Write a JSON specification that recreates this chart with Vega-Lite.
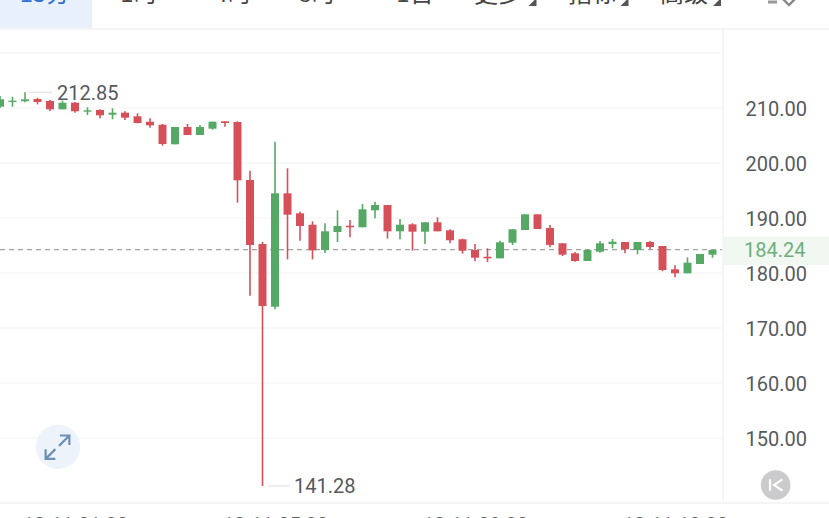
{
"$schema":"https://vega.github.io/schema/vega-lite/v6.json",
"width":829,"height":518,"padding":0,"autosize":{"type":"none"},"background":"#ffffff",
"config":{"view":{"stroke":null},"font":"Roboto"},
"datasets":{
"candles":[
{"t":"2025-10-11T00:00:00","o":210.24,"h":212.18,"l":210.0,"c":211.58,"dir":"up"},
{"t":"2025-10-11T00:15:00","o":211.09,"h":212.05,"l":210.24,"c":211.33,"dir":"up"},
{"t":"2025-10-11T00:30:00","o":211.22,"h":212.85,"l":211.04,"c":211.58,"dir":"up"},
{"t":"2025-10-11T00:45:00","o":211.64,"h":211.87,"l":210.67,"c":211.09,"dir":"down"},
{"t":"2025-10-11T01:00:00","o":211.27,"h":211.45,"l":209.45,"c":209.76,"dir":"down"},
{"t":"2025-10-11T01:15:00","o":209.76,"h":211.33,"l":209.76,"c":210.96,"dir":"up"},
{"t":"2025-10-11T01:30:00","o":210.96,"h":211.09,"l":209.15,"c":209.4,"dir":"down"},
{"t":"2025-10-11T01:45:00","o":209.33,"h":210.13,"l":208.73,"c":209.58,"dir":"up"},
{"t":"2025-10-11T02:00:00","o":209.64,"h":209.76,"l":208.13,"c":208.67,"dir":"down"},
{"t":"2025-10-11T02:15:00","o":208.78,"h":209.95,"l":207.95,"c":209.15,"dir":"up"},
{"t":"2025-10-11T02:30:00","o":209.15,"h":209.4,"l":207.82,"c":208.24,"dir":"down"},
{"t":"2025-10-11T02:45:00","o":208.49,"h":209.04,"l":207.22,"c":207.27,"dir":"down"},
{"t":"2025-10-11T03:00:00","o":207.51,"h":208.13,"l":206.42,"c":206.85,"dir":"down"},
{"t":"2025-10-11T03:15:00","o":206.96,"h":207.09,"l":203.15,"c":203.45,"dir":"down"},
{"t":"2025-10-11T03:30:00","o":203.4,"h":206.55,"l":203.4,"c":206.55,"dir":"up"},
{"t":"2025-10-11T03:45:00","o":206.55,"h":207.09,"l":205.09,"c":205.09,"dir":"down"},
{"t":"2025-10-11T04:00:00","o":205.09,"h":206.91,"l":205.09,"c":206.55,"dir":"up"},
{"t":"2025-10-11T04:15:00","o":206.24,"h":207.51,"l":206.05,"c":207.51,"dir":"up"},
{"t":"2025-10-11T04:30:00","o":207.58,"h":207.58,"l":206.6,"c":207.27,"dir":"down"},
{"t":"2025-10-11T04:45:00","o":207.45,"h":207.58,"l":192.78,"c":196.85,"dir":"down"},
{"t":"2025-10-11T05:00:00","o":196.91,"h":198.6,"l":175.87,"c":185.09,"dir":"down"},
{"t":"2025-10-11T05:15:00","o":185.27,"h":185.64,"l":141.28,"c":174.0,"dir":"down"},
{"t":"2025-10-11T05:30:00","o":173.87,"h":203.87,"l":173.4,"c":194.49,"dir":"up"},
{"t":"2025-10-11T05:45:00","o":194.49,"h":199.04,"l":182.49,"c":190.6,"dir":"down"},
{"t":"2025-10-11T06:00:00","o":190.85,"h":191.15,"l":185.87,"c":188.55,"dir":"down"},
{"t":"2025-10-11T06:15:00","o":188.78,"h":189.4,"l":182.49,"c":184.13,"dir":"down"},
{"t":"2025-10-11T06:30:00","o":184.18,"h":189.04,"l":183.64,"c":187.58,"dir":"up"},
{"t":"2025-10-11T06:45:00","o":187.45,"h":191.4,"l":185.64,"c":188.55,"dir":"up"},
{"t":"2025-10-11T07:00:00","o":188.6,"h":189.64,"l":186.49,"c":188.31,"dir":"down"},
{"t":"2025-10-11T07:15:00","o":188.31,"h":192.55,"l":188.31,"c":191.58,"dir":"up"},
{"t":"2025-10-11T07:30:00","o":191.4,"h":192.96,"l":189.95,"c":192.36,"dir":"up"},
{"t":"2025-10-11T07:45:00","o":192.36,"h":192.36,"l":186.24,"c":187.58,"dir":"down"},
{"t":"2025-10-11T08:00:00","o":187.58,"h":189.82,"l":186.13,"c":188.78,"dir":"up"},
{"t":"2025-10-11T08:15:00","o":188.85,"h":189.04,"l":184.05,"c":187.51,"dir":"down"},
{"t":"2025-10-11T08:30:00","o":187.51,"h":189.22,"l":185.27,"c":189.22,"dir":"up"},
{"t":"2025-10-11T08:45:00","o":189.22,"h":190.13,"l":187.58,"c":187.58,"dir":"down"},
{"t":"2025-10-11T09:00:00","o":187.76,"h":187.95,"l":185.4,"c":185.95,"dir":"down"},
{"t":"2025-10-11T09:15:00","o":186.13,"h":186.24,"l":183.51,"c":184.05,"dir":"down"},
{"t":"2025-10-11T09:30:00","o":184.18,"h":185.27,"l":182.13,"c":182.78,"dir":"down"},
{"t":"2025-10-11T09:45:00","o":182.96,"h":184.49,"l":182.0,"c":182.67,"dir":"down"},
{"t":"2025-10-11T10:00:00","o":182.67,"h":185.87,"l":182.67,"c":185.58,"dir":"up"},
{"t":"2025-10-11T10:15:00","o":185.51,"h":187.95,"l":185.09,"c":187.95,"dir":"up"},
{"t":"2025-10-11T10:30:00","o":187.82,"h":190.67,"l":187.82,"c":190.67,"dir":"up"},
{"t":"2025-10-11T10:45:00","o":190.67,"h":190.67,"l":188.0,"c":188.0,"dir":"down"},
{"t":"2025-10-11T11:00:00","o":188.18,"h":188.73,"l":184.67,"c":185.09,"dir":"down"},
{"t":"2025-10-11T11:15:00","o":185.4,"h":185.4,"l":183.09,"c":183.33,"dir":"down"},
{"t":"2025-10-11T11:30:00","o":183.58,"h":183.82,"l":182.05,"c":182.18,"dir":"down"},
{"t":"2025-10-11T11:45:00","o":182.18,"h":184.31,"l":182.18,"c":184.18,"dir":"up"},
{"t":"2025-10-11T12:00:00","o":183.87,"h":185.82,"l":183.69,"c":185.4,"dir":"up"},
{"t":"2025-10-11T12:15:00","o":185.27,"h":186.18,"l":184.49,"c":185.69,"dir":"up"},
{"t":"2025-10-11T12:30:00","o":185.64,"h":185.64,"l":183.58,"c":184.31,"dir":"down"},
{"t":"2025-10-11T12:45:00","o":184.18,"h":185.64,"l":183.4,"c":185.64,"dir":"up"},
{"t":"2025-10-11T13:00:00","o":185.64,"h":185.82,"l":184.36,"c":184.73,"dir":"down"},
{"t":"2025-10-11T13:15:00","o":184.91,"h":184.91,"l":180.31,"c":180.55,"dir":"down"},
{"t":"2025-10-11T13:30:00","o":180.67,"h":181.4,"l":179.22,"c":179.95,"dir":"down"},
{"t":"2025-10-11T13:45:00","o":179.95,"h":182.85,"l":179.95,"c":181.87,"dir":"up"},
{"t":"2025-10-11T14:00:00","o":181.64,"h":183.45,"l":181.64,"c":183.45,"dir":"up"},
{"t":"2025-10-11T14:15:00","o":183.33,"h":184.18,"l":182.78,"c":184.18,"dir":"up"}
],
"grid":[{"v":150},{"v":160},{"v":170},{"v":180},{"v":190},{"v":200},{"v":210},{"v":220}],
"frameH":[{"v":224.36},{"v":138.18}],
"tabs":[
{"t":"2025-10-11T02:46:48","label":"1时"},
{"t":"2025-10-11T04:39:36","label":"4时"},
{"t":"2025-10-11T06:20:24","label":"8时"},
{"t":"2025-10-11T08:18:00","label":"1日"},
{"t":"2025-10-11T09:57:36","label":"更多"},
{"t":"2025-10-11T11:50:24","label":"指标"},
{"t":"2025-10-11T13:40:48","label":"高级"}
],
"menuArrows":[{"t":"2025-10-11T10:39:00"},{"t":"2025-10-11T12:29:24"},{"t":"2025-10-11T14:20:24"}],
"extremes":[
{"t":"2025-10-11T01:08:24","t0":"2025-10-11T00:34:00","t1":"2025-10-11T01:02:24","v":212.85,"label":"212.85"},
{"t":"2025-10-11T05:52:48","t0":"2025-10-11T05:21:36","t1":"2025-10-11T05:48:00","v":141.28,"label":"141.28"}
]
},
"layer":[
{"data":{"values":[{"t":"2025-10-11T00:00:00","t2":"2025-10-11T01:50:24","v":229.64,"v2":224.55}]},
 "mark":{"type":"rect","color":"#e8f0fb"},
 "encoding":{
  "x":{"field":"t","type":"temporal","title":null,
   "scale":{"domain":[{"year":2025,"month":10,"date":11,"hours":0,"minutes":0},{"year":2025,"month":10,"date":11,"hours":16,"minutes":34,"seconds":48}],"nice":false,"padding":0},
   "axis":{"values":[{"year":2025,"month":10,"date":11,"hours":1,"minutes":30},{"year":2025,"month":10,"date":11,"hours":5,"minutes":30},{"year":2025,"month":10,"date":11,"hours":9,"minutes":30},{"year":2025,"month":10,"date":11,"hours":13,"minutes":30}],
    "format":"%m-%d %H:%M","orient":"bottom","offset":-3,"domain":false,"ticks":false,"grid":false,"labelPadding":0,"labelBaseline":"top","labelFontSize":20,"labelColor":"#555a60","labelOverlap":false,"labelBound":false,"labelFlush":false,"labelAngle":0,"title":null}},
  "x2":{"field":"t2"},
  "y":{"field":"v","type":"quantitative","title":null,
   "scale":{"domain":[135.4545,229.6364],"nice":false,"zero":false,"padding":0},
   "axis":{"values":[150,160,170,180,190,200,210],"format":".2f","orient":"right","offset":-84,"domain":false,"ticks":false,"grid":false,"labelPadding":0,"labelAlign":"left","labelFontSize":20,"labelColor":"#555a60","labelOffset":1.5,"title":null}},
  "y2":{"field":"v2"}}},
{"data":{"name":"grid"},
 "mark":{"type":"rule","color":"#f7f7f7","strokeWidth":1.5},
 "encoding":{"x":{"datum":{"year":2025,"month":10,"date":11,"hours":0,"minutes":0},"type":"temporal"},"x2":{"datum":{"year":2025,"month":10,"date":11,"hours":14,"minutes":26,"seconds":24}},"y":{"field":"v","type":"quantitative"}}},
{"data":{"name":"frameH"},
 "mark":{"type":"rule","color":"#f2f2f3","strokeWidth":1.5},
 "encoding":{"x":{"datum":{"year":2025,"month":10,"date":11,"hours":0,"minutes":0},"type":"temporal"},"x2":{"datum":{"year":2025,"month":10,"date":11,"hours":16,"minutes":34,"seconds":48}},"y":{"field":"v","type":"quantitative"}}},
{"data":{"values":[{"t":"2025-10-11T14:27:36","v":224.36,"v2":138.18}]},
 "mark":{"type":"rule","color":"#f2f2f3","strokeWidth":1.5},
 "encoding":{"x":{"field":"t","type":"temporal"},"y":{"field":"v","type":"quantitative"},"y2":{"field":"v2"}}},
{"data":{"values":[{"t":"2025-10-11T14:27:36","t2":"2025-10-11T16:34:48","v":186.6,"v2":181.45}]},
 "mark":{"type":"rect","color":"#f0f8f1"},
 "encoding":{"x":{"field":"t","type":"temporal"},"x2":{"field":"t2"},"y":{"field":"v","type":"quantitative"},"y2":{"field":"v2"}}},
{"data":{"values":[{"t":"2025-10-11T00:00:00","t2":"2025-10-11T14:26:24","v":184.24}]},
 "mark":{"type":"rule","color":"#a3a3a3","strokeWidth":1.2,"strokeDash":[5,4]},
 "encoding":{"x":{"field":"t","type":"temporal"},"x2":{"field":"t2"},"y":{"field":"v","type":"quantitative"}}},
{"data":{"name":"candles"},
 "mark":{"type":"rule","strokeWidth":1.6},
 "encoding":{"x":{"field":"t","type":"temporal"},"y":{"field":"h","type":"quantitative"},"y2":{"field":"l"},
  "color":{"field":"dir","type":"nominal","legend":null,"scale":{"domain":["up","down"],"range":["#55a964","#d6505a"]}}}},
{"data":{"name":"candles"},
 "mark":{"type":"bar","size":8},
 "encoding":{"x":{"field":"t","type":"temporal"},"y":{"field":"o","type":"quantitative"},"y2":{"field":"c"},
  "color":{"field":"dir","type":"nominal","legend":null}}},
{"data":{"name":"extremes"},
 "mark":{"type":"rule","color":"#e4e4e4","strokeWidth":1.3},
 "encoding":{"x":{"field":"t0","type":"temporal"},"x2":{"field":"t1"},"y":{"field":"v","type":"quantitative"}}},
{"data":{"name":"extremes"},
 "mark":{"type":"text","align":"left","baseline":"middle","dy":1.5,"fontSize":20,"color":"#555a60","font":"Roboto"},
 "encoding":{"x":{"field":"t","type":"temporal"},"y":{"field":"v","type":"quantitative"},"text":{"field":"label"}}},
{"data":{"values":[{"t":"2025-10-11T14:54:00","v":184.24,"label":"184.24"}]},
 "mark":{"type":"text","align":"left","baseline":"middle","dy":1.5,"dx":-1,"fontSize":20,"color":"#6fae7e","font":"Roboto"},
 "encoding":{"x":{"field":"t","type":"temporal"},"y":{"field":"v","type":"quantitative"},"text":{"field":"label"}}},
{"data":{"name":"tabs"},
 "mark":{"type":"text","align":"center","baseline":"alphabetic","fontSize":24,"font":"Noto Sans CJK SC","color":"#444444"},
 "encoding":{"x":{"field":"t","type":"temporal"},"y":{"datum":229.27,"type":"quantitative"},"text":{"field":"label"}}},
{"data":{"values":[{"t":"2025-10-11T00:54:00","label":"15分"}]},
 "mark":{"type":"text","align":"center","baseline":"alphabetic","fontSize":24,"font":"Noto Sans CJK SC","color":"#2f6fd6"},
 "encoding":{"x":{"field":"t","type":"temporal"},"y":{"datum":229.27,"type":"quantitative"},"text":{"field":"label"}}},
{"data":{"name":"menuArrows"},
 "mark":{"type":"point","shape":"M1 -1L1 1L-1 1Z","filled":true,"size":64,"color":"#555555","opacity":1},
 "encoding":{"x":{"field":"t","type":"temporal"},"y":{"datum":229.27,"type":"quantitative"}}},
{"data":{"values":[{"t":"2025-10-11T15:46:48","v":230.36}]},
 "mark":{"type":"point","shape":"M-1 0L0 1L1 0","filled":false,"size":324,"color":"#8a8a8a","strokeWidth":2.5,"opacity":1},
 "encoding":{"x":{"field":"t","type":"temporal"},"y":{"field":"v","type":"quantitative"}}},
{"data":{"values":[{"t":"2025-10-11T15:27:00","v":229.27}]},
 "mark":{"type":"point","shape":"M-1 0L1 0","filled":false,"size":81,"color":"#999999","strokeWidth":3,"opacity":1},
 "encoding":{"x":{"field":"t","type":"temporal"},"y":{"field":"v","type":"quantitative"}}},
{"data":{"values":[{"t":"2025-10-11T01:09:36","v":148.4}]},
 "mark":{"type":"point","shape":"circle","filled":true,"size":1963,"color":"#edf3fb","opacity":1},
 "encoding":{"x":{"field":"t","type":"temporal"},"y":{"field":"v","type":"quantitative"}}},
{"data":{"values":[{"t":"2025-10-11T01:09:00","v":148.36}]},
 "mark":{"type":"point","shape":"M0.12 -0.09L0.95 -0.92M0.2 -0.92L0.95 -0.92L0.95 -0.17M-0.17 0.17L-0.95 0.95M-0.95 0.17L-0.95 0.95L-0.17 0.95","filled":false,"size":625,"color":"#6f90b5","strokeWidth":2.2,"opacity":1},
 "encoding":{"x":{"field":"t","type":"temporal"},"y":{"field":"v","type":"quantitative"}}},
{"data":{"values":[{"t":"2025-10-11T15:30:50","v":141.45}]},
 "mark":{"type":"point","shape":"circle","filled":true,"size":875,"color":"#cbcbcd","opacity":1},
 "encoding":{"x":{"field":"t","type":"temporal"},"y":{"field":"v","type":"quantitative"}}},
{"data":{"values":[{"t":"2025-10-11T15:30:50","v":141.45}]},
 "mark":{"type":"point","shape":"M-0.85 -0.85L-0.85 0.85M1 -0.85L-0.25 0L1 0.85","filled":false,"size":178,"color":"#ffffff","strokeWidth":2.2,"opacity":1},
 "encoding":{"x":{"field":"t","type":"temporal"},"y":{"field":"v","type":"quantitative"}}}
]
}
